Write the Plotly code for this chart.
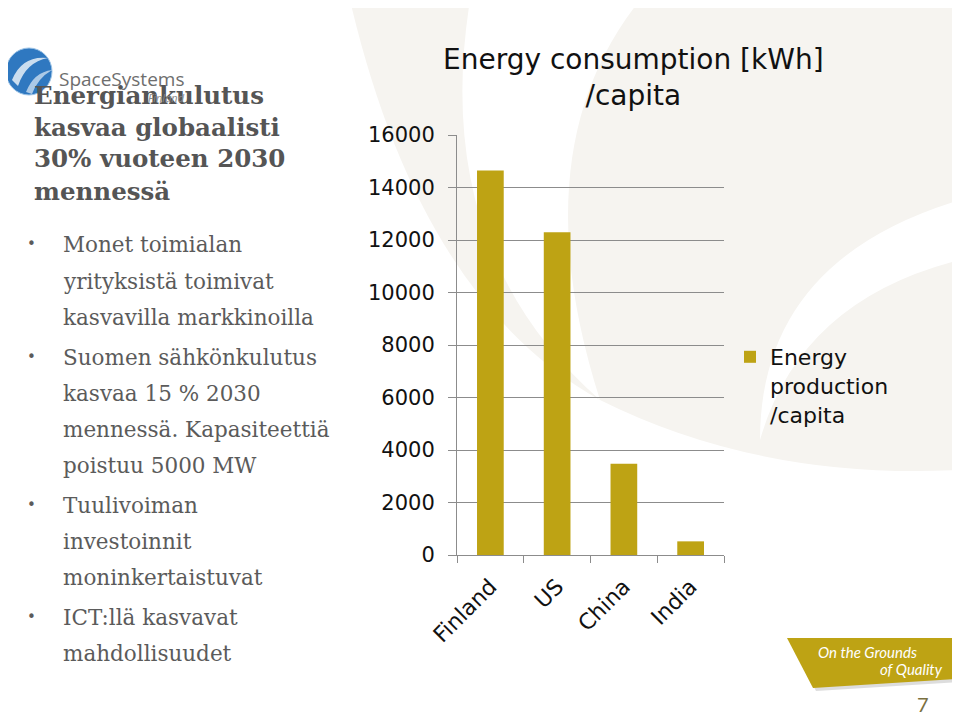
import plotly.graph_objects as go

# ---- chart data ----
countries = ["Finland", "US", "China", "India"]
energy_per_capita = [14650, 12300, 3480, 520]
series_name = "Energy<br>production<br>/capita"
y_ticks = [0, 2000, 4000, 6000, 8000, 10000, 12000, 14000, 16000]

# ---- slide text ----
title_lines = ["Energiankulutus", "kasvaa globaalisti", "30% vuoteen 2030", "mennessä"]
title_y = [95, 127, 159, 191]
bullet_lines = ["Monet toimialan", "yrityksistä toimivat", "kasvavilla markkinoilla",
                "Suomen sähkönkulutus", "kasvaa 15 % 2030", "mennessä. Kapasiteettiä",
                "poistuu 5000 MW", "Tuulivoiman", "investoinnit", "moninkertaistuvat",
                "ICT:llä kasvavat", "mahdollisuudet"]
bullet_y = [244, 281, 317, 357, 393, 429, 465, 505, 541, 577, 617, 653]
bullet_marks_y = [244, 357, 505, 617]

# page shows the figure offset by the 8px body margin
OFF = 8
W, H = 960 - OFF, 714 - OFF
def px(x): return (x - OFF) / W
def py(y): return 1 - (y - OFF) / H

GOLD = "#BEA314"
GRID = "#8c8c8c"
SLIDE_GRAY = "#5b5b5b"
CHART_FONT = "DejaVu Sans"

fig = go.Figure()
fig.add_trace(go.Bar(
    x=countries, y=energy_per_capita, name=series_name,
    marker=dict(color=GOLD, line=dict(width=0)), width=0.4,
    showlegend=True,
))

annotations = []
# chart title
annotations.append(dict(text="Energy consumption [kWh]<br>/capita", x=px(633), y=py(78),
                        xref="paper", yref="paper", xanchor="center", yanchor="middle",
                        showarrow=False, font=dict(family=CHART_FONT, size=28, color="#111111")))
# slide title
for t, yy in zip(title_lines, title_y):
    annotations.append(dict(text="<b>" + t + "</b>", x=px(32), y=py(yy), xref="paper", yref="paper",
                            xanchor="left", yanchor="middle", showarrow=False,
                            font=dict(family="DejaVu Serif", size=24.5, color="#555555")))
for t, yy in zip(bullet_lines, bullet_y):
    annotations.append(dict(text=t, x=px(61), y=py(yy), xref="paper", yref="paper",
                            xanchor="left", yanchor="middle", showarrow=False,
                            font=dict(family="DejaVu Serif", size=21.5, color=SLIDE_GRAY)))
for yy in bullet_marks_y:
    annotations.append(dict(text="•", x=px(31), y=py(yy), xref="paper", yref="paper",
                            xanchor="center", yanchor="middle", showarrow=False,
                            font=dict(family="DejaVu Sans", size=15, color=SLIDE_GRAY)))
# logo text
annotations.append(dict(text="SpaceSystems", x=px(57), y=py(79), xref="paper", yref="paper",
                        xanchor="left", yanchor="middle", showarrow=False,
                        font=dict(family="Open Sans", size=19, color="#6e6e6e")))
annotations.append(dict(text="<i>Finland</i>", x=px(146), y=py(97), xref="paper", yref="paper",
                        xanchor="left", yanchor="middle", showarrow=False,
                        font=dict(family="Open Sans", size=11, color="#8a8a8a")))
# badge text
annotations.append(dict(text="<i>On the Grounds</i>", x=px(816), y=py(652), xref="paper", yref="paper",
                        xanchor="left", yanchor="middle", showarrow=False,
                        font=dict(family="Lato", size=15, color="white")))
annotations.append(dict(text="<i>of Quality</i>", x=px(945), y=py(669), xref="paper", yref="paper",
                        xanchor="right", yanchor="middle", showarrow=False,
                        font=dict(family="Lato", size=15, color="white")))
annotations.append(dict(text="7", x=px(923), y=py(704), xref="paper", yref="paper",
                        xanchor="center", yanchor="middle", showarrow=False,
                        font=dict(family="Lato", size=20, color="#7a7040")))

def P(pts):
    return "M " + " L ".join(f"{px(x)},{py(y)}" for x, y in pts) + " Z"

shapes = [
    # faint beige background with white swooshes
    dict(type="path", xref="paper", yref="paper", layer="below", line=dict(width=0),
         fillcolor="#f6f4f0",
         path=f"M {px(350)},{py(0)} L {px(960)},{py(0)} L {px(960)},{py(470)} "
              f"Q {px(760)},{py(480)} {px(600)},{py(400)} Q {px(420)},{py(300)} {px(350)},{py(0)} Z"),
    dict(type="path", xref="paper", yref="paper", layer="below", line=dict(width=0),
         fillcolor="white",
         path=f"M {px(470)},{py(0)} L {px(640)},{py(0)} Q {px(520)},{py(150)} {px(600)},{py(400)} "
              f"Q {px(430)},{py(250)} {px(470)},{py(0)} Z"),
    dict(type="path", xref="paper", yref="paper", layer="below", line=dict(width=0),
         fillcolor="white",
         path=f"M {px(960)},{py(200)} Q {px(760)},{py(260)} {px(760)},{py(440)} "
              f"Q {px(800)},{py(300)} {px(960)},{py(260)} Z"),
    # logo globe
    dict(type="circle", xref="paper", yref="paper", layer="above",
         x0=px(6), x1=px(52), y0=py(95), y1=py(48),
         fillcolor="#2f78c0", line=dict(color="#9cc3e6", width=1)),
    dict(type="path", xref="paper", yref="paper", layer="above", line=dict(width=0),
         fillcolor="rgba(255,255,255,0.75)",
         path=f"M {px(12)},{py(80)} Q {px(22)},{py(55)} {px(48)},{py(58)} "
              f"Q {px(26)},{py(62)} {px(18)},{py(86)} Z"),
    dict(type="path", xref="paper", yref="paper", layer="above", line=dict(width=0),
         fillcolor="rgba(255,255,255,0.6)",
         path=f"M {px(26)},{py(92)} Q {px(34)},{py(72)} {px(52)},{py(70)} "
              f"Q {px(38)},{py(78)} {px(32)},{py(94)} Z"),
    # badge shadow + badge
    dict(type="path", xref="paper", yref="paper", layer="above", line=dict(width=0),
         fillcolor="rgba(120,120,120,0.25)",
         path=P([(790, 641), (958, 641), (958, 682), (816, 691)])),
    dict(type="path", xref="paper", yref="paper", layer="above", line=dict(width=0),
         fillcolor=GOLD,
         path=P([(787, 638), (955, 638), (955, 679), (813, 688)])),
]

fig.update_layout(
    width=W, height=H,
    margin=dict(l=0, r=0, t=0, b=0, autoexpand=False),
    paper_bgcolor="white", plot_bgcolor="rgba(0,0,0,0)",
    annotations=annotations, shapes=shapes,
    xaxis=dict(domain=[px(457), px(724)], showgrid=False, showline=True, linecolor=GRID,
               linewidth=1, ticks="outside", tickson="boundaries", ticklen=7, tickcolor=GRID,
               tickangle=-45, tickfont=dict(family=CHART_FONT, size=22, color="#111111"),
               zeroline=False, automargin=False, ticklabelstandoff=9),
    yaxis=dict(domain=[py(555), py(135)], range=[0, 16000], tickvals=y_ticks, tickformat="d",
               showgrid=True, gridcolor=GRID, gridwidth=1, showline=True, linecolor=GRID,
               ticks="outside", ticklen=8, tickcolor=GRID, zeroline=False, automargin=False,
               tickfont=dict(family=CHART_FONT, size=21, color="#111111"), ticklabelstandoff=9),
    legend=dict(x=px(730), y=py(336), xanchor="left", yanchor="top", bgcolor="rgba(0,0,0,0)",
                font=dict(family=CHART_FONT, size=22, color="#111111"), valign="top",
                itemwidth=30, tracegroupgap=0),
)

fig.write_html("out.html")
